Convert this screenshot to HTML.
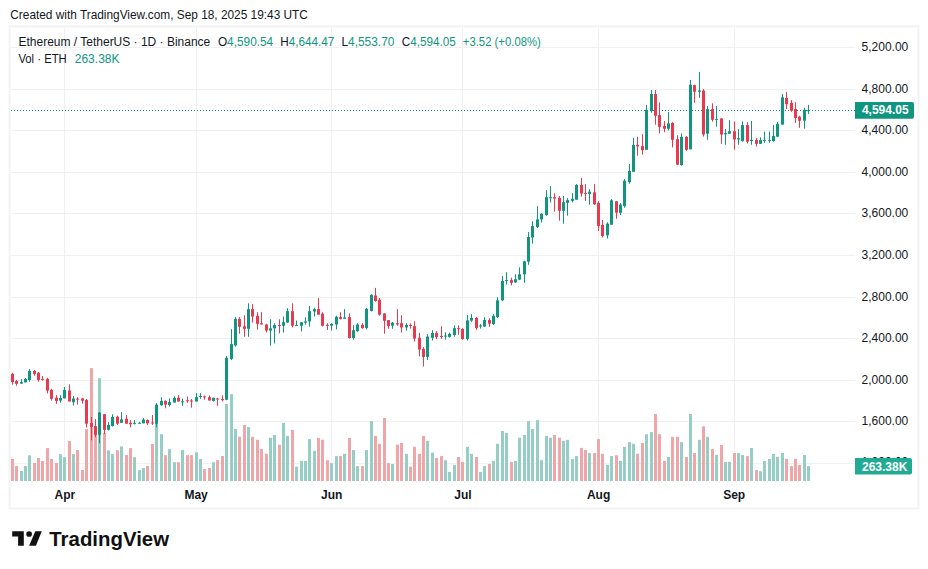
<!DOCTYPE html>
<html><head><meta charset="utf-8"><title>ETHUSDT Chart</title>
<style>html,body{margin:0;padding:0;background:#fff;width:928px;height:569px;overflow:hidden}svg{display:block}</style>
</head><body>
<svg width="928" height="569" viewBox="0 0 928 569"><rect x="9.5" y="26.5" width="909" height="482" fill="none" stroke="#f3f3f3" stroke-width="2"/>
<line x1="11" y1="47.50" x2="855" y2="47.50" stroke="#f0f0f0" stroke-width="1"/>
<line x1="11" y1="89.50" x2="855" y2="89.50" stroke="#f0f0f0" stroke-width="1"/>
<line x1="11" y1="130.50" x2="855" y2="130.50" stroke="#f0f0f0" stroke-width="1"/>
<line x1="11" y1="172.50" x2="855" y2="172.50" stroke="#f0f0f0" stroke-width="1"/>
<line x1="11" y1="213.50" x2="855" y2="213.50" stroke="#f0f0f0" stroke-width="1"/>
<line x1="11" y1="255.50" x2="855" y2="255.50" stroke="#f0f0f0" stroke-width="1"/>
<line x1="11" y1="297.50" x2="855" y2="297.50" stroke="#f0f0f0" stroke-width="1"/>
<line x1="11" y1="338.50" x2="855" y2="338.50" stroke="#f0f0f0" stroke-width="1"/>
<line x1="11" y1="380.50" x2="855" y2="380.50" stroke="#f0f0f0" stroke-width="1"/>
<line x1="11" y1="421.50" x2="855" y2="421.50" stroke="#f0f0f0" stroke-width="1"/>
<line x1="11" y1="463.50" x2="855" y2="463.50" stroke="#f0f0f0" stroke-width="1"/>
<line x1="64.50" y1="28" x2="64.50" y2="481" stroke="#f0f0f0" stroke-width="1"/>
<line x1="196.50" y1="28" x2="196.50" y2="481" stroke="#f0f0f0" stroke-width="1"/>
<line x1="331.50" y1="28" x2="331.50" y2="481" stroke="#f0f0f0" stroke-width="1"/>
<line x1="462.50" y1="28" x2="462.50" y2="481" stroke="#f0f0f0" stroke-width="1"/>
<line x1="598.50" y1="28" x2="598.50" y2="481" stroke="#f0f0f0" stroke-width="1"/>
<line x1="734.50" y1="28" x2="734.50" y2="481" stroke="#f0f0f0" stroke-width="1"/>
<line x1="11" y1="110.5" x2="855" y2="110.5" stroke="#109680" stroke-width="1" stroke-dasharray="1 2"/>
<rect x="11.00" y="459.00" width="3" height="22.00" fill="#eea6a8"/><rect x="15.00" y="466.00" width="3" height="15.00" fill="#eea6a8"/><rect x="20.00" y="471.00" width="3" height="10.00" fill="#96cec6"/><rect x="24.00" y="466.00" width="3" height="15.00" fill="#96cec6"/><rect x="28.00" y="455.30" width="3" height="25.70" fill="#96cec6"/><rect x="33.00" y="463.00" width="3" height="18.00" fill="#eea6a8"/><rect x="37.00" y="458.00" width="3" height="23.00" fill="#eea6a8"/><rect x="41.00" y="461.00" width="3" height="20.00" fill="#eea6a8"/><rect x="46.00" y="448.10" width="3" height="32.90" fill="#eea6a8"/><rect x="50.00" y="459.00" width="3" height="22.00" fill="#eea6a8"/><rect x="55.00" y="463.00" width="3" height="18.00" fill="#eea6a8"/><rect x="59.00" y="454.10" width="3" height="26.90" fill="#96cec6"/><rect x="63.00" y="457.10" width="3" height="23.90" fill="#96cec6"/><rect x="68.00" y="441.10" width="3" height="39.90" fill="#eea6a8"/><rect x="72.00" y="454.10" width="3" height="26.90" fill="#96cec6"/><rect x="76.00" y="450.00" width="3" height="31.00" fill="#eea6a8"/><rect x="81.00" y="470.00" width="3" height="11.00" fill="#eea6a8"/><rect x="85.00" y="429.10" width="3" height="51.90" fill="#eea6a8"/><rect x="90.00" y="368.10" width="3" height="112.90" fill="#eea6a8"/><rect x="94.00" y="432.00" width="3" height="49.00" fill="#eea6a8"/><rect x="98.00" y="378.20" width="3" height="102.80" fill="#96cec6"/><rect x="103.00" y="433.00" width="3" height="48.00" fill="#eea6a8"/><rect x="107.00" y="450.30" width="3" height="30.70" fill="#96cec6"/><rect x="111.00" y="454.00" width="3" height="27.00" fill="#96cec6"/><rect x="116.00" y="450.30" width="3" height="30.70" fill="#eea6a8"/><rect x="120.00" y="446.40" width="3" height="34.60" fill="#96cec6"/><rect x="125.00" y="455.00" width="3" height="26.00" fill="#eea6a8"/><rect x="129.00" y="448.10" width="3" height="32.90" fill="#eea6a8"/><rect x="133.00" y="457.20" width="3" height="23.80" fill="#96cec6"/><rect x="138.00" y="470.20" width="3" height="10.80" fill="#96cec6"/><rect x="142.00" y="468.00" width="3" height="13.00" fill="#96cec6"/><rect x="146.00" y="466.00" width="3" height="15.00" fill="#eea6a8"/><rect x="151.00" y="444.00" width="3" height="37.00" fill="#eea6a8"/><rect x="155.00" y="420.00" width="3" height="61.00" fill="#96cec6"/><rect x="160.00" y="434.20" width="3" height="46.80" fill="#96cec6"/><rect x="164.00" y="455.10" width="3" height="25.90" fill="#eea6a8"/><rect x="168.00" y="449.10" width="3" height="31.90" fill="#96cec6"/><rect x="173.00" y="462.20" width="3" height="18.80" fill="#96cec6"/><rect x="177.00" y="462.20" width="3" height="18.80" fill="#eea6a8"/><rect x="181.00" y="450.00" width="3" height="31.00" fill="#96cec6"/><rect x="186.00" y="455.10" width="3" height="25.90" fill="#eea6a8"/><rect x="190.00" y="455.10" width="3" height="25.90" fill="#eea6a8"/><rect x="195.00" y="452.20" width="3" height="28.80" fill="#96cec6"/><rect x="199.00" y="459.00" width="3" height="22.00" fill="#96cec6"/><rect x="203.00" y="469.00" width="3" height="12.00" fill="#eea6a8"/><rect x="208.00" y="468.00" width="3" height="13.00" fill="#eea6a8"/><rect x="212.00" y="462.20" width="3" height="18.80" fill="#96cec6"/><rect x="216.00" y="460.10" width="3" height="20.90" fill="#eea6a8"/><rect x="221.00" y="456.00" width="3" height="25.00" fill="#eea6a8"/><rect x="225.00" y="404.00" width="3" height="77.00" fill="#96cec6"/><rect x="230.00" y="394.10" width="3" height="86.90" fill="#96cec6"/><rect x="234.00" y="428.90" width="3" height="52.10" fill="#96cec6"/><rect x="238.00" y="436.80" width="3" height="44.20" fill="#eea6a8"/><rect x="243.00" y="425.00" width="3" height="56.00" fill="#eea6a8"/><rect x="247.00" y="427.10" width="3" height="53.90" fill="#96cec6"/><rect x="251.00" y="436.80" width="3" height="44.20" fill="#eea6a8"/><rect x="256.00" y="439.80" width="3" height="41.20" fill="#eea6a8"/><rect x="260.00" y="449.10" width="3" height="31.90" fill="#eea6a8"/><rect x="265.00" y="453.80" width="3" height="27.20" fill="#eea6a8"/><rect x="269.00" y="437.70" width="3" height="43.30" fill="#96cec6"/><rect x="273.00" y="435.00" width="3" height="46.00" fill="#96cec6"/><rect x="278.00" y="444.70" width="3" height="36.30" fill="#eea6a8"/><rect x="282.00" y="422.80" width="3" height="58.20" fill="#96cec6"/><rect x="286.00" y="435.90" width="3" height="45.10" fill="#96cec6"/><rect x="291.00" y="429.80" width="3" height="51.20" fill="#eea6a8"/><rect x="295.00" y="466.70" width="3" height="14.30" fill="#96cec6"/><rect x="300.00" y="460.90" width="3" height="20.10" fill="#96cec6"/><rect x="304.00" y="460.90" width="3" height="20.10" fill="#96cec6"/><rect x="308.00" y="439.10" width="3" height="41.90" fill="#96cec6"/><rect x="313.00" y="450.80" width="3" height="30.20" fill="#96cec6"/><rect x="317.00" y="438.00" width="3" height="43.00" fill="#eea6a8"/><rect x="321.00" y="439.80" width="3" height="41.20" fill="#eea6a8"/><rect x="326.00" y="460.20" width="3" height="20.80" fill="#eea6a8"/><rect x="330.00" y="463.10" width="3" height="17.90" fill="#96cec6"/><rect x="335.00" y="456.10" width="3" height="24.90" fill="#96cec6"/><rect x="339.00" y="456.10" width="3" height="24.90" fill="#eea6a8"/><rect x="343.00" y="453.80" width="3" height="27.20" fill="#96cec6"/><rect x="348.00" y="438.00" width="3" height="43.00" fill="#eea6a8"/><rect x="352.00" y="450.00" width="3" height="31.00" fill="#96cec6"/><rect x="356.00" y="466.10" width="3" height="14.90" fill="#96cec6"/><rect x="361.00" y="466.10" width="3" height="14.90" fill="#eea6a8"/><rect x="365.00" y="450.00" width="3" height="31.00" fill="#96cec6"/><rect x="370.00" y="421.00" width="3" height="60.00" fill="#96cec6"/><rect x="374.00" y="435.90" width="3" height="45.10" fill="#eea6a8"/><rect x="378.00" y="443.80" width="3" height="37.20" fill="#eea6a8"/><rect x="383.00" y="418.00" width="3" height="63.00" fill="#eea6a8"/><rect x="387.00" y="463.10" width="3" height="17.90" fill="#eea6a8"/><rect x="391.00" y="464.00" width="3" height="17.00" fill="#96cec6"/><rect x="396.00" y="444.70" width="3" height="36.30" fill="#eea6a8"/><rect x="400.00" y="443.00" width="3" height="38.00" fill="#eea6a8"/><rect x="405.00" y="453.80" width="3" height="27.20" fill="#96cec6"/><rect x="409.00" y="466.70" width="3" height="14.30" fill="#eea6a8"/><rect x="413.00" y="446.80" width="3" height="34.20" fill="#eea6a8"/><rect x="418.00" y="453.80" width="3" height="27.20" fill="#eea6a8"/><rect x="422.00" y="435.90" width="3" height="45.10" fill="#eea6a8"/><rect x="426.00" y="440.80" width="3" height="40.20" fill="#96cec6"/><rect x="431.00" y="452.60" width="3" height="28.40" fill="#96cec6"/><rect x="435.00" y="457.90" width="3" height="23.10" fill="#eea6a8"/><rect x="440.00" y="456.10" width="3" height="24.90" fill="#eea6a8"/><rect x="444.00" y="460.20" width="3" height="20.80" fill="#96cec6"/><rect x="448.00" y="471.90" width="3" height="9.10" fill="#96cec6"/><rect x="453.00" y="464.90" width="3" height="16.10" fill="#96cec6"/><rect x="457.00" y="457.00" width="3" height="24.00" fill="#eea6a8"/><rect x="461.00" y="461.90" width="3" height="19.10" fill="#eea6a8"/><rect x="466.00" y="446.80" width="3" height="34.20" fill="#96cec6"/><rect x="470.00" y="453.80" width="3" height="27.20" fill="#96cec6"/><rect x="475.00" y="457.00" width="3" height="24.00" fill="#eea6a8"/><rect x="479.00" y="471.90" width="3" height="9.10" fill="#96cec6"/><rect x="483.00" y="466.10" width="3" height="14.90" fill="#96cec6"/><rect x="488.00" y="464.00" width="3" height="17.00" fill="#eea6a8"/><rect x="492.00" y="460.90" width="3" height="20.10" fill="#96cec6"/><rect x="496.00" y="443.80" width="3" height="37.20" fill="#96cec6"/><rect x="501.00" y="431.00" width="3" height="50.00" fill="#96cec6"/><rect x="505.00" y="432.80" width="3" height="48.20" fill="#96cec6"/><rect x="510.00" y="461.90" width="3" height="19.10" fill="#eea6a8"/><rect x="514.00" y="460.90" width="3" height="20.10" fill="#96cec6"/><rect x="518.00" y="437.70" width="3" height="43.30" fill="#96cec6"/><rect x="523.00" y="435.00" width="3" height="46.00" fill="#96cec6"/><rect x="527.00" y="421.00" width="3" height="60.00" fill="#96cec6"/><rect x="531.00" y="428.90" width="3" height="52.10" fill="#96cec6"/><rect x="536.00" y="420.10" width="3" height="60.90" fill="#96cec6"/><rect x="540.00" y="460.20" width="3" height="20.80" fill="#96cec6"/><rect x="545.00" y="435.90" width="3" height="45.10" fill="#96cec6"/><rect x="549.00" y="437.70" width="3" height="43.30" fill="#96cec6"/><rect x="553.00" y="435.00" width="3" height="46.00" fill="#eea6a8"/><rect x="558.00" y="437.70" width="3" height="43.30" fill="#eea6a8"/><rect x="562.00" y="440.80" width="3" height="40.20" fill="#96cec6"/><rect x="566.00" y="439.80" width="3" height="41.20" fill="#96cec6"/><rect x="571.00" y="459.10" width="3" height="21.90" fill="#96cec6"/><rect x="575.00" y="456.10" width="3" height="24.90" fill="#96cec6"/><rect x="580.00" y="447.90" width="3" height="33.10" fill="#eea6a8"/><rect x="584.00" y="450.00" width="3" height="31.00" fill="#eea6a8"/><rect x="588.00" y="453.10" width="3" height="27.90" fill="#96cec6"/><rect x="593.00" y="453.10" width="3" height="27.90" fill="#eea6a8"/><rect x="597.00" y="439.10" width="3" height="41.90" fill="#eea6a8"/><rect x="601.00" y="453.80" width="3" height="27.20" fill="#eea6a8"/><rect x="606.00" y="464.90" width="3" height="16.10" fill="#96cec6"/><rect x="610.00" y="456.10" width="3" height="24.90" fill="#96cec6"/><rect x="615.00" y="455.20" width="3" height="25.80" fill="#eea6a8"/><rect x="619.00" y="460.90" width="3" height="20.10" fill="#96cec6"/><rect x="623.00" y="446.80" width="3" height="34.20" fill="#96cec6"/><rect x="628.00" y="442.10" width="3" height="38.90" fill="#96cec6"/><rect x="632.00" y="443.80" width="3" height="37.20" fill="#96cec6"/><rect x="636.00" y="453.80" width="3" height="27.20" fill="#eea6a8"/><rect x="641.00" y="443.00" width="3" height="38.00" fill="#eea6a8"/><rect x="645.00" y="434.20" width="3" height="46.80" fill="#96cec6"/><rect x="650.00" y="432.10" width="3" height="48.90" fill="#96cec6"/><rect x="654.00" y="414.00" width="3" height="67.00" fill="#eea6a8"/><rect x="658.00" y="434.20" width="3" height="46.80" fill="#eea6a8"/><rect x="663.00" y="460.90" width="3" height="20.10" fill="#eea6a8"/><rect x="667.00" y="457.00" width="3" height="24.00" fill="#96cec6"/><rect x="671.00" y="436.80" width="3" height="44.20" fill="#eea6a8"/><rect x="676.00" y="436.80" width="3" height="44.20" fill="#eea6a8"/><rect x="680.00" y="442.10" width="3" height="38.90" fill="#96cec6"/><rect x="685.00" y="457.00" width="3" height="24.00" fill="#eea6a8"/><rect x="689.00" y="414.00" width="3" height="67.00" fill="#96cec6"/><rect x="693.00" y="453.10" width="3" height="27.90" fill="#eea6a8"/><rect x="698.00" y="439.80" width="3" height="41.20" fill="#96cec6"/><rect x="702.00" y="426.30" width="3" height="54.70" fill="#eea6a8"/><rect x="706.00" y="436.80" width="3" height="44.20" fill="#96cec6"/><rect x="711.00" y="449.10" width="3" height="31.90" fill="#eea6a8"/><rect x="715.00" y="454.90" width="3" height="26.10" fill="#96cec6"/><rect x="720.00" y="445.00" width="3" height="36.00" fill="#eea6a8"/><rect x="724.00" y="461.90" width="3" height="19.10" fill="#96cec6"/><rect x="728.00" y="461.90" width="3" height="19.10" fill="#96cec6"/><rect x="733.00" y="453.10" width="3" height="27.90" fill="#eea6a8"/><rect x="737.00" y="453.10" width="3" height="27.90" fill="#96cec6"/><rect x="741.00" y="454.90" width="3" height="26.10" fill="#96cec6"/><rect x="746.00" y="456.10" width="3" height="24.90" fill="#eea6a8"/><rect x="750.00" y="448.00" width="3" height="33.00" fill="#96cec6"/><rect x="755.00" y="470.10" width="3" height="10.90" fill="#eea6a8"/><rect x="759.00" y="471.20" width="3" height="9.80" fill="#96cec6"/><rect x="763.00" y="461.00" width="3" height="20.00" fill="#96cec6"/><rect x="768.00" y="458.90" width="3" height="22.10" fill="#96cec6"/><rect x="772.00" y="454.00" width="3" height="27.00" fill="#96cec6"/><rect x="776.00" y="456.80" width="3" height="24.20" fill="#96cec6"/><rect x="781.00" y="452.90" width="3" height="28.10" fill="#96cec6"/><rect x="785.00" y="458.90" width="3" height="22.10" fill="#eea6a8"/><rect x="790.00" y="466.10" width="3" height="14.90" fill="#eea6a8"/><rect x="794.00" y="458.90" width="3" height="22.10" fill="#eea6a8"/><rect x="798.00" y="465.00" width="3" height="16.00" fill="#eea6a8"/><rect x="803.00" y="455.00" width="3" height="26.00" fill="#96cec6"/><rect x="807.00" y="466.10" width="3" height="14.90" fill="#96cec6"/>
<rect x="12.00" y="372.80" width="1" height="11.80" fill="#e8394f"/><rect x="11.00" y="373.90" width="3" height="8.20" fill="#e8394f"/><rect x="16.00" y="379.90" width="1" height="5.90" fill="#e8394f"/><rect x="15.00" y="381.00" width="3" height="2.80" fill="#e8394f"/><rect x="21.00" y="379.10" width="1" height="4.50" fill="#109680"/><rect x="20.00" y="382.10" width="3" height="1.50" fill="#109680"/><rect x="25.00" y="378.00" width="1" height="4.40" fill="#109680"/><rect x="24.00" y="378.90" width="3" height="3.50" fill="#109680"/><rect x="29.00" y="369.10" width="1" height="12.60" fill="#109680"/><rect x="28.00" y="371.00" width="3" height="9.00" fill="#109680"/><rect x="34.00" y="370.00" width="1" height="5.70" fill="#e8394f"/><rect x="33.00" y="371.00" width="3" height="2.90" fill="#e8394f"/><rect x="38.00" y="372.00" width="1" height="9.70" fill="#e8394f"/><rect x="37.00" y="372.80" width="3" height="7.10" fill="#e8394f"/><rect x="42.00" y="376.00" width="1" height="4.60" fill="#e8394f"/><rect x="41.00" y="378.90" width="3" height="1.00" fill="#e8394f"/><rect x="47.00" y="377.80" width="1" height="15.60" fill="#e8394f"/><rect x="46.00" y="378.90" width="3" height="11.70" fill="#e8394f"/><rect x="51.00" y="388.80" width="1" height="11.80" fill="#e8394f"/><rect x="50.00" y="389.90" width="3" height="8.90" fill="#e8394f"/><rect x="56.00" y="395.20" width="1" height="8.60" fill="#e8394f"/><rect x="55.00" y="397.70" width="3" height="3.20" fill="#e8394f"/><rect x="60.00" y="395.20" width="1" height="7.50" fill="#109680"/><rect x="59.00" y="398.00" width="3" height="2.60" fill="#109680"/><rect x="64.00" y="387.00" width="1" height="11.40" fill="#109680"/><rect x="63.00" y="389.90" width="3" height="8.50" fill="#109680"/><rect x="69.00" y="384.30" width="1" height="17.20" fill="#e8394f"/><rect x="68.00" y="390.50" width="3" height="11.00" fill="#e8394f"/><rect x="73.00" y="396.00" width="1" height="9.60" fill="#109680"/><rect x="72.00" y="398.50" width="3" height="3.70" fill="#109680"/><rect x="77.00" y="397.20" width="1" height="7.40" fill="#e8394f"/><rect x="76.00" y="398.70" width="3" height="1.00" fill="#e8394f"/><rect x="82.00" y="397.80" width="1" height="5.80" fill="#e8394f"/><rect x="81.00" y="398.50" width="3" height="2.20" fill="#e8394f"/><rect x="86.00" y="399.00" width="1" height="28.40" fill="#e8394f"/><rect x="85.00" y="399.90" width="3" height="23.80" fill="#e8394f"/><rect x="91.00" y="417.00" width="1" height="23.30" fill="#e8394f"/><rect x="90.00" y="423.00" width="3" height="3.80" fill="#e8394f"/><rect x="95.00" y="419.10" width="1" height="18.10" fill="#e8394f"/><rect x="94.00" y="426.10" width="3" height="8.70" fill="#e8394f"/><rect x="99.00" y="412.20" width="1" height="31.20" fill="#109680"/><rect x="98.00" y="412.60" width="3" height="22.20" fill="#109680"/><rect x="104.00" y="414.20" width="1" height="19.90" fill="#e8394f"/><rect x="103.00" y="414.20" width="3" height="15.60" fill="#e8394f"/><rect x="108.00" y="422.10" width="1" height="8.40" fill="#109680"/><rect x="107.00" y="424.90" width="3" height="4.90" fill="#109680"/><rect x="112.00" y="414.20" width="1" height="12.30" fill="#109680"/><rect x="111.00" y="416.90" width="3" height="9.20" fill="#109680"/><rect x="117.00" y="415.70" width="1" height="9.20" fill="#e8394f"/><rect x="116.00" y="416.70" width="3" height="7.00" fill="#e8394f"/><rect x="121.00" y="412.20" width="1" height="10.60" fill="#109680"/><rect x="120.00" y="419.40" width="3" height="3.40" fill="#109680"/><rect x="126.00" y="415.00" width="1" height="8.70" fill="#e8394f"/><rect x="125.00" y="418.80" width="3" height="4.90" fill="#e8394f"/><rect x="130.00" y="420.00" width="1" height="7.40" fill="#e8394f"/><rect x="129.00" y="422.80" width="3" height="1.50" fill="#e8394f"/><rect x="134.00" y="420.00" width="1" height="4.50" fill="#109680"/><rect x="133.00" y="422.80" width="3" height="1.00" fill="#109680"/><rect x="139.00" y="421.80" width="1" height="1.50" fill="#109680"/><rect x="138.00" y="422.80" width="3" height="1.00" fill="#109680"/><rect x="143.00" y="418.10" width="1" height="5.20" fill="#109680"/><rect x="142.00" y="419.60" width="3" height="3.70" fill="#109680"/><rect x="147.00" y="419.40" width="1" height="5.50" fill="#e8394f"/><rect x="146.00" y="420.00" width="3" height="3.30" fill="#e8394f"/><rect x="152.00" y="415.00" width="1" height="9.90" fill="#e8394f"/><rect x="151.00" y="422.50" width="3" height="1.00" fill="#e8394f"/><rect x="156.00" y="403.10" width="1" height="24.30" fill="#109680"/><rect x="155.00" y="404.60" width="3" height="19.10" fill="#109680"/><rect x="161.00" y="397.20" width="1" height="8.60" fill="#109680"/><rect x="160.00" y="400.90" width="3" height="4.30" fill="#109680"/><rect x="165.00" y="400.30" width="1" height="8.00" fill="#e8394f"/><rect x="164.00" y="400.90" width="3" height="3.70" fill="#e8394f"/><rect x="169.00" y="398.50" width="1" height="8.00" fill="#109680"/><rect x="168.00" y="402.10" width="3" height="2.90" fill="#109680"/><rect x="174.00" y="396.40" width="1" height="6.40" fill="#109680"/><rect x="173.00" y="397.80" width="3" height="4.70" fill="#109680"/><rect x="178.00" y="395.10" width="1" height="6.40" fill="#e8394f"/><rect x="177.00" y="397.80" width="3" height="3.70" fill="#e8394f"/><rect x="182.00" y="398.50" width="1" height="7.30" fill="#109680"/><rect x="181.00" y="401.30" width="3" height="1.00" fill="#109680"/><rect x="187.00" y="396.60" width="1" height="6.20" fill="#e8394f"/><rect x="186.00" y="400.30" width="3" height="1.00" fill="#e8394f"/><rect x="191.00" y="399.00" width="1" height="8.70" fill="#e8394f"/><rect x="190.00" y="400.50" width="3" height="1.00" fill="#e8394f"/><rect x="196.00" y="393.20" width="1" height="8.30" fill="#109680"/><rect x="195.00" y="397.20" width="3" height="4.30" fill="#109680"/><rect x="200.00" y="393.20" width="1" height="5.60" fill="#109680"/><rect x="199.00" y="396.00" width="3" height="1.00" fill="#109680"/><rect x="204.00" y="395.40" width="1" height="4.30" fill="#e8394f"/><rect x="203.00" y="396.40" width="3" height="1.00" fill="#e8394f"/><rect x="209.00" y="395.40" width="1" height="5.10" fill="#e8394f"/><rect x="208.00" y="397.20" width="3" height="3.30" fill="#e8394f"/><rect x="213.00" y="397.60" width="1" height="3.90" fill="#109680"/><rect x="212.00" y="397.80" width="3" height="3.10" fill="#109680"/><rect x="217.00" y="397.80" width="1" height="8.00" fill="#e8394f"/><rect x="216.00" y="398.50" width="3" height="1.00" fill="#e8394f"/><rect x="222.00" y="395.40" width="1" height="6.10" fill="#e8394f"/><rect x="221.00" y="399.10" width="3" height="1.00" fill="#e8394f"/><rect x="226.00" y="356.00" width="1" height="44.30" fill="#109680"/><rect x="225.00" y="357.80" width="3" height="41.90" fill="#109680"/><rect x="231.00" y="329.10" width="1" height="30.90" fill="#109680"/><rect x="230.00" y="344.10" width="3" height="14.80" fill="#109680"/><rect x="235.00" y="317.10" width="1" height="29.50" fill="#109680"/><rect x="234.00" y="318.90" width="3" height="26.50" fill="#109680"/><rect x="239.00" y="317.10" width="1" height="16.60" fill="#e8394f"/><rect x="238.00" y="318.90" width="3" height="7.80" fill="#e8394f"/><rect x="244.00" y="315.20" width="1" height="21.60" fill="#e8394f"/><rect x="243.00" y="326.30" width="3" height="2.50" fill="#e8394f"/><rect x="248.00" y="303.30" width="1" height="33.50" fill="#109680"/><rect x="247.00" y="309.10" width="3" height="19.70" fill="#109680"/><rect x="252.00" y="304.20" width="1" height="18.40" fill="#e8394f"/><rect x="251.00" y="309.10" width="3" height="7.40" fill="#e8394f"/><rect x="257.00" y="312.20" width="1" height="17.40" fill="#e8394f"/><rect x="256.00" y="315.80" width="3" height="8.00" fill="#e8394f"/><rect x="261.00" y="312.20" width="1" height="12.30" fill="#e8394f"/><rect x="260.00" y="323.20" width="3" height="1.30" fill="#e8394f"/><rect x="266.00" y="323.80" width="1" height="8.70" fill="#e8394f"/><rect x="265.00" y="324.50" width="3" height="6.10" fill="#e8394f"/><rect x="270.00" y="319.30" width="1" height="26.30" fill="#109680"/><rect x="269.00" y="328.40" width="3" height="2.20" fill="#109680"/><rect x="274.00" y="323.20" width="1" height="20.30" fill="#109680"/><rect x="273.00" y="325.10" width="3" height="3.30" fill="#109680"/><rect x="279.00" y="319.30" width="1" height="14.00" fill="#e8394f"/><rect x="278.00" y="325.10" width="3" height="1.00" fill="#e8394f"/><rect x="283.00" y="316.50" width="1" height="16.00" fill="#109680"/><rect x="282.00" y="322.20" width="3" height="3.50" fill="#109680"/><rect x="287.00" y="308.20" width="1" height="14.40" fill="#109680"/><rect x="286.00" y="311.20" width="3" height="11.40" fill="#109680"/><rect x="292.00" y="303.30" width="1" height="24.20" fill="#e8394f"/><rect x="291.00" y="311.20" width="3" height="14.50" fill="#e8394f"/><rect x="296.00" y="320.50" width="1" height="5.20" fill="#109680"/><rect x="295.00" y="325.10" width="3" height="1.00" fill="#109680"/><rect x="301.00" y="322.20" width="1" height="9.40" fill="#109680"/><rect x="300.00" y="322.20" width="3" height="3.50" fill="#109680"/><rect x="305.00" y="317.30" width="1" height="7.40" fill="#109680"/><rect x="304.00" y="321.40" width="3" height="1.20" fill="#109680"/><rect x="309.00" y="306.00" width="1" height="20.70" fill="#109680"/><rect x="308.00" y="311.20" width="3" height="10.20" fill="#109680"/><rect x="314.00" y="307.80" width="1" height="8.70" fill="#109680"/><rect x="313.00" y="309.10" width="3" height="2.40" fill="#109680"/><rect x="318.00" y="298.00" width="1" height="16.60" fill="#e8394f"/><rect x="317.00" y="309.10" width="3" height="5.50" fill="#e8394f"/><rect x="322.00" y="312.20" width="1" height="14.30" fill="#e8394f"/><rect x="321.00" y="313.70" width="3" height="12.00" fill="#e8394f"/><rect x="327.00" y="323.20" width="1" height="6.80" fill="#e8394f"/><rect x="326.00" y="324.80" width="3" height="1.00" fill="#e8394f"/><rect x="331.00" y="323.20" width="1" height="7.40" fill="#109680"/><rect x="330.00" y="323.80" width="3" height="1.90" fill="#109680"/><rect x="336.00" y="315.80" width="1" height="13.60" fill="#109680"/><rect x="335.00" y="316.70" width="3" height="7.80" fill="#109680"/><rect x="340.00" y="312.20" width="1" height="7.30" fill="#e8394f"/><rect x="339.00" y="317.10" width="3" height="1.80" fill="#e8394f"/><rect x="344.00" y="309.10" width="1" height="9.60" fill="#109680"/><rect x="343.00" y="317.40" width="3" height="1.30" fill="#109680"/><rect x="349.00" y="313.40" width="1" height="25.20" fill="#e8394f"/><rect x="348.00" y="317.10" width="3" height="20.90" fill="#e8394f"/><rect x="353.00" y="325.10" width="1" height="14.50" fill="#109680"/><rect x="352.00" y="330.20" width="3" height="7.80" fill="#109680"/><rect x="357.00" y="323.20" width="1" height="8.60" fill="#109680"/><rect x="356.00" y="324.50" width="3" height="6.70" fill="#109680"/><rect x="362.00" y="323.20" width="1" height="5.60" fill="#e8394f"/><rect x="361.00" y="324.80" width="3" height="3.30" fill="#e8394f"/><rect x="366.00" y="307.80" width="1" height="21.60" fill="#109680"/><rect x="365.00" y="308.80" width="3" height="19.30" fill="#109680"/><rect x="371.00" y="294.10" width="1" height="17.40" fill="#109680"/><rect x="370.00" y="294.90" width="3" height="16.00" fill="#109680"/><rect x="375.00" y="287.90" width="1" height="13.80" fill="#e8394f"/><rect x="374.00" y="295.50" width="3" height="5.60" fill="#e8394f"/><rect x="379.00" y="298.00" width="1" height="17.80" fill="#e8394f"/><rect x="378.00" y="299.80" width="3" height="14.80" fill="#e8394f"/><rect x="384.00" y="313.40" width="1" height="20.30" fill="#e8394f"/><rect x="383.00" y="313.40" width="3" height="7.40" fill="#e8394f"/><rect x="388.00" y="320.10" width="1" height="8.70" fill="#e8394f"/><rect x="387.00" y="320.10" width="3" height="6.00" fill="#e8394f"/><rect x="392.00" y="322.00" width="1" height="6.80" fill="#109680"/><rect x="391.00" y="322.60" width="3" height="3.10" fill="#109680"/><rect x="397.00" y="309.10" width="1" height="16.60" fill="#e8394f"/><rect x="396.00" y="323.20" width="3" height="1.30" fill="#e8394f"/><rect x="401.00" y="315.20" width="1" height="17.30" fill="#e8394f"/><rect x="400.00" y="323.20" width="3" height="4.30" fill="#e8394f"/><rect x="406.00" y="323.10" width="1" height="7.60" fill="#109680"/><rect x="405.00" y="324.90" width="3" height="2.50" fill="#109680"/><rect x="410.00" y="323.30" width="1" height="5.30" fill="#e8394f"/><rect x="409.00" y="324.90" width="3" height="1.00" fill="#e8394f"/><rect x="414.00" y="321.20" width="1" height="20.30" fill="#e8394f"/><rect x="413.00" y="326.20" width="3" height="12.30" fill="#e8394f"/><rect x="419.00" y="332.90" width="1" height="23.40" fill="#e8394f"/><rect x="418.00" y="337.80" width="3" height="11.70" fill="#e8394f"/><rect x="423.00" y="347.10" width="1" height="19.40" fill="#e8394f"/><rect x="422.00" y="348.90" width="3" height="8.00" fill="#e8394f"/><rect x="427.00" y="334.10" width="1" height="25.90" fill="#109680"/><rect x="426.00" y="336.60" width="3" height="20.30" fill="#109680"/><rect x="432.00" y="330.20" width="1" height="10.30" fill="#109680"/><rect x="431.00" y="332.90" width="3" height="4.90" fill="#109680"/><rect x="436.00" y="331.10" width="1" height="8.00" fill="#e8394f"/><rect x="435.00" y="332.90" width="3" height="4.30" fill="#e8394f"/><rect x="441.00" y="326.20" width="1" height="12.60" fill="#e8394f"/><rect x="440.00" y="336.00" width="3" height="1.00" fill="#e8394f"/><rect x="445.00" y="332.30" width="1" height="7.40" fill="#109680"/><rect x="444.00" y="335.60" width="3" height="1.00" fill="#109680"/><rect x="449.00" y="332.70" width="1" height="4.90" fill="#109680"/><rect x="448.00" y="333.90" width="3" height="3.00" fill="#109680"/><rect x="454.00" y="325.30" width="1" height="11.30" fill="#109680"/><rect x="453.00" y="328.20" width="3" height="6.90" fill="#109680"/><rect x="458.00" y="325.30" width="1" height="9.50" fill="#e8394f"/><rect x="457.00" y="328.20" width="3" height="1.00" fill="#e8394f"/><rect x="462.00" y="328.20" width="1" height="11.50" fill="#e8394f"/><rect x="461.00" y="329.00" width="3" height="10.10" fill="#e8394f"/><rect x="467.00" y="315.10" width="1" height="25.40" fill="#109680"/><rect x="466.00" y="320.40" width="3" height="18.70" fill="#109680"/><rect x="471.00" y="314.20" width="1" height="7.60" fill="#109680"/><rect x="470.00" y="317.90" width="3" height="2.70" fill="#109680"/><rect x="476.00" y="316.90" width="1" height="12.90" fill="#e8394f"/><rect x="475.00" y="317.90" width="3" height="10.30" fill="#e8394f"/><rect x="480.00" y="324.10" width="1" height="4.50" fill="#109680"/><rect x="479.00" y="325.50" width="3" height="1.00" fill="#109680"/><rect x="484.00" y="317.20" width="1" height="9.60" fill="#109680"/><rect x="483.00" y="320.00" width="3" height="6.50" fill="#109680"/><rect x="489.00" y="318.20" width="1" height="8.60" fill="#e8394f"/><rect x="488.00" y="320.00" width="3" height="3.70" fill="#e8394f"/><rect x="493.00" y="314.10" width="1" height="10.90" fill="#109680"/><rect x="492.00" y="315.80" width="3" height="8.30" fill="#109680"/><rect x="497.00" y="297.20" width="1" height="20.70" fill="#109680"/><rect x="496.00" y="300.30" width="3" height="16.80" fill="#109680"/><rect x="502.00" y="276.10" width="1" height="25.10" fill="#109680"/><rect x="501.00" y="281.00" width="3" height="19.30" fill="#109680"/><rect x="506.00" y="272.20" width="1" height="12.30" fill="#109680"/><rect x="505.00" y="280.10" width="3" height="1.00" fill="#109680"/><rect x="511.00" y="277.80" width="1" height="7.60" fill="#e8394f"/><rect x="510.00" y="280.10" width="3" height="2.70" fill="#e8394f"/><rect x="515.00" y="274.30" width="1" height="8.50" fill="#109680"/><rect x="514.00" y="279.20" width="3" height="3.20" fill="#109680"/><rect x="519.00" y="267.30" width="1" height="12.80" fill="#109680"/><rect x="518.00" y="274.30" width="3" height="5.30" fill="#109680"/><rect x="524.00" y="260.80" width="1" height="22.00" fill="#109680"/><rect x="523.00" y="261.30" width="3" height="13.00" fill="#109680"/><rect x="528.00" y="232.10" width="1" height="32.70" fill="#109680"/><rect x="527.00" y="237.00" width="3" height="24.70" fill="#109680"/><rect x="532.00" y="221.20" width="1" height="22.50" fill="#109680"/><rect x="531.00" y="226.10" width="3" height="11.30" fill="#109680"/><rect x="537.00" y="206.20" width="1" height="21.80" fill="#109680"/><rect x="536.00" y="219.40" width="3" height="7.70" fill="#109680"/><rect x="541.00" y="213.20" width="1" height="9.30" fill="#109680"/><rect x="540.00" y="213.80" width="3" height="5.60" fill="#109680"/><rect x="546.00" y="190.20" width="1" height="25.50" fill="#109680"/><rect x="545.00" y="197.20" width="3" height="17.90" fill="#109680"/><rect x="550.00" y="186.20" width="1" height="16.30" fill="#109680"/><rect x="549.00" y="197.20" width="3" height="1.00" fill="#109680"/><rect x="554.00" y="193.20" width="1" height="18.40" fill="#e8394f"/><rect x="553.00" y="197.20" width="3" height="1.30" fill="#e8394f"/><rect x="559.00" y="196.00" width="1" height="24.60" fill="#e8394f"/><rect x="558.00" y="197.80" width="3" height="13.00" fill="#e8394f"/><rect x="563.00" y="196.00" width="1" height="27.70" fill="#109680"/><rect x="562.00" y="202.20" width="3" height="8.60" fill="#109680"/><rect x="567.00" y="198.10" width="1" height="17.60" fill="#109680"/><rect x="566.00" y="200.10" width="3" height="2.70" fill="#109680"/><rect x="572.00" y="193.20" width="1" height="9.30" fill="#109680"/><rect x="571.00" y="198.80" width="3" height="2.10" fill="#109680"/><rect x="576.00" y="184.10" width="1" height="15.60" fill="#109680"/><rect x="575.00" y="184.90" width="3" height="14.80" fill="#109680"/><rect x="581.00" y="177.90" width="1" height="18.70" fill="#e8394f"/><rect x="580.00" y="184.90" width="3" height="8.60" fill="#e8394f"/><rect x="585.00" y="184.10" width="1" height="16.80" fill="#e8394f"/><rect x="584.00" y="192.90" width="3" height="1.00" fill="#e8394f"/><rect x="589.00" y="189.20" width="1" height="15.40" fill="#109680"/><rect x="588.00" y="191.70" width="3" height="2.20" fill="#109680"/><rect x="594.00" y="184.10" width="1" height="20.90" fill="#e8394f"/><rect x="593.00" y="192.30" width="3" height="11.90" fill="#e8394f"/><rect x="598.00" y="201.30" width="1" height="29.50" fill="#e8394f"/><rect x="597.00" y="202.80" width="3" height="23.10" fill="#e8394f"/><rect x="602.00" y="220.00" width="1" height="17.50" fill="#e8394f"/><rect x="601.00" y="224.90" width="3" height="11.10" fill="#e8394f"/><rect x="607.00" y="222.20" width="1" height="16.30" fill="#109680"/><rect x="606.00" y="223.70" width="3" height="11.70" fill="#109680"/><rect x="611.00" y="199.10" width="1" height="25.60" fill="#109680"/><rect x="610.00" y="200.30" width="3" height="24.40" fill="#109680"/><rect x="616.00" y="201.30" width="1" height="17.50" fill="#e8394f"/><rect x="615.00" y="201.30" width="3" height="11.30" fill="#e8394f"/><rect x="620.00" y="203.10" width="1" height="11.90" fill="#109680"/><rect x="619.00" y="204.60" width="3" height="8.20" fill="#109680"/><rect x="624.00" y="179.00" width="1" height="28.60" fill="#109680"/><rect x="623.00" y="180.70" width="3" height="25.40" fill="#109680"/><rect x="629.00" y="164.00" width="1" height="19.70" fill="#109680"/><rect x="628.00" y="171.00" width="3" height="11.20" fill="#109680"/><rect x="633.00" y="137.80" width="1" height="34.00" fill="#109680"/><rect x="632.00" y="144.90" width="3" height="26.90" fill="#109680"/><rect x="637.00" y="136.70" width="1" height="19.00" fill="#e8394f"/><rect x="636.00" y="144.90" width="3" height="1.50" fill="#e8394f"/><rect x="642.00" y="134.20" width="1" height="20.40" fill="#e8394f"/><rect x="641.00" y="146.10" width="3" height="4.00" fill="#e8394f"/><rect x="646.00" y="104.90" width="1" height="44.90" fill="#109680"/><rect x="645.00" y="109.90" width="3" height="39.90" fill="#109680"/><rect x="651.00" y="90.00" width="1" height="22.80" fill="#109680"/><rect x="650.00" y="94.00" width="3" height="17.10" fill="#109680"/><rect x="655.00" y="90.00" width="1" height="34.60" fill="#e8394f"/><rect x="654.00" y="94.00" width="3" height="21.80" fill="#e8394f"/><rect x="659.00" y="102.30" width="1" height="31.10" fill="#e8394f"/><rect x="658.00" y="115.10" width="3" height="11.80" fill="#e8394f"/><rect x="664.00" y="121.10" width="1" height="11.10" fill="#e8394f"/><rect x="663.00" y="126.00" width="3" height="2.70" fill="#e8394f"/><rect x="668.00" y="112.00" width="1" height="18.40" fill="#109680"/><rect x="667.00" y="123.40" width="3" height="5.30" fill="#109680"/><rect x="672.00" y="122.20" width="1" height="25.30" fill="#e8394f"/><rect x="671.00" y="122.90" width="3" height="16.90" fill="#e8394f"/><rect x="677.00" y="135.20" width="1" height="29.90" fill="#e8394f"/><rect x="676.00" y="139.20" width="3" height="25.50" fill="#e8394f"/><rect x="681.00" y="133.40" width="1" height="32.20" fill="#109680"/><rect x="680.00" y="136.90" width="3" height="28.20" fill="#109680"/><rect x="686.00" y="136.20" width="1" height="14.50" fill="#e8394f"/><rect x="685.00" y="136.90" width="3" height="12.90" fill="#e8394f"/><rect x="690.00" y="80.00" width="1" height="69.30" fill="#109680"/><rect x="689.00" y="84.70" width="3" height="64.60" fill="#109680"/><rect x="694.00" y="84.70" width="1" height="18.10" fill="#e8394f"/><rect x="693.00" y="85.20" width="3" height="6.50" fill="#e8394f"/><rect x="699.00" y="71.90" width="1" height="26.00" fill="#109680"/><rect x="698.00" y="90.50" width="3" height="1.20" fill="#109680"/><rect x="703.00" y="89.10" width="1" height="47.50" fill="#e8394f"/><rect x="702.00" y="90.50" width="3" height="44.00" fill="#e8394f"/><rect x="707.00" y="106.00" width="1" height="33.80" fill="#109680"/><rect x="706.00" y="109.10" width="3" height="24.60" fill="#109680"/><rect x="712.00" y="103.30" width="1" height="18.40" fill="#e8394f"/><rect x="711.00" y="109.10" width="3" height="10.70" fill="#e8394f"/><rect x="716.00" y="106.00" width="1" height="20.70" fill="#109680"/><rect x="715.00" y="118.90" width="3" height="1.00" fill="#109680"/><rect x="721.00" y="118.00" width="1" height="25.90" fill="#e8394f"/><rect x="720.00" y="118.50" width="3" height="16.00" fill="#e8394f"/><rect x="725.00" y="129.10" width="1" height="15.60" fill="#109680"/><rect x="724.00" y="133.10" width="3" height="1.20" fill="#109680"/><rect x="729.00" y="120.10" width="1" height="13.60" fill="#109680"/><rect x="728.00" y="131.20" width="3" height="2.50" fill="#109680"/><rect x="734.00" y="121.40" width="1" height="28.30" fill="#e8394f"/><rect x="733.00" y="131.20" width="3" height="8.30" fill="#e8394f"/><rect x="738.00" y="129.10" width="1" height="15.60" fill="#109680"/><rect x="737.00" y="138.20" width="3" height="1.30" fill="#109680"/><rect x="742.00" y="121.40" width="1" height="20.30" fill="#109680"/><rect x="741.00" y="125.10" width="3" height="16.00" fill="#109680"/><rect x="747.00" y="122.20" width="1" height="21.30" fill="#e8394f"/><rect x="746.00" y="125.10" width="3" height="16.60" fill="#e8394f"/><rect x="751.00" y="121.00" width="1" height="23.70" fill="#109680"/><rect x="750.00" y="139.80" width="3" height="1.30" fill="#109680"/><rect x="756.00" y="138.10" width="1" height="8.40" fill="#e8394f"/><rect x="755.00" y="140.10" width="3" height="3.70" fill="#e8394f"/><rect x="760.00" y="137.30" width="1" height="6.50" fill="#109680"/><rect x="759.00" y="140.10" width="3" height="3.70" fill="#109680"/><rect x="764.00" y="131.70" width="1" height="11.10" fill="#109680"/><rect x="763.00" y="140.10" width="3" height="1.00" fill="#109680"/><rect x="769.00" y="131.70" width="1" height="11.10" fill="#109680"/><rect x="768.00" y="140.10" width="3" height="1.00" fill="#109680"/><rect x="773.00" y="125.00" width="1" height="16.60" fill="#109680"/><rect x="772.00" y="136.00" width="3" height="5.00" fill="#109680"/><rect x="777.00" y="121.90" width="1" height="14.80" fill="#109680"/><rect x="776.00" y="123.80" width="3" height="12.90" fill="#109680"/><rect x="782.00" y="93.90" width="1" height="30.70" fill="#109680"/><rect x="781.00" y="97.30" width="3" height="27.30" fill="#109680"/><rect x="786.00" y="92.10" width="1" height="16.90" fill="#e8394f"/><rect x="785.00" y="97.90" width="3" height="6.20" fill="#e8394f"/><rect x="791.00" y="100.00" width="1" height="11.80" fill="#e8394f"/><rect x="790.00" y="102.80" width="3" height="8.00" fill="#e8394f"/><rect x="795.00" y="102.20" width="1" height="20.70" fill="#e8394f"/><rect x="794.00" y="109.00" width="3" height="9.00" fill="#e8394f"/><rect x="799.00" y="115.80" width="1" height="12.00" fill="#e8394f"/><rect x="798.00" y="116.70" width="3" height="4.00" fill="#e8394f"/><rect x="804.00" y="107.80" width="1" height="20.90" fill="#109680"/><rect x="803.00" y="109.80" width="3" height="10.90" fill="#109680"/><rect x="808.00" y="104.90" width="1" height="9.00" fill="#109680"/><rect x="807.00" y="110.20" width="3" height="1.00" fill="#109680"/>
<text x="908.3" y="51.00" font-family="Liberation Sans, sans-serif" font-size="12" fill="#131722" text-anchor="end">5,200.00</text>
<text x="908.3" y="92.60" font-family="Liberation Sans, sans-serif" font-size="12" fill="#131722" text-anchor="end">4,800.00</text>
<text x="908.3" y="134.20" font-family="Liberation Sans, sans-serif" font-size="12" fill="#131722" text-anchor="end">4,400.00</text>
<text x="908.3" y="175.80" font-family="Liberation Sans, sans-serif" font-size="12" fill="#131722" text-anchor="end">4,000.00</text>
<text x="908.3" y="217.40" font-family="Liberation Sans, sans-serif" font-size="12" fill="#131722" text-anchor="end">3,600.00</text>
<text x="908.3" y="259.00" font-family="Liberation Sans, sans-serif" font-size="12" fill="#131722" text-anchor="end">3,200.00</text>
<text x="908.3" y="300.60" font-family="Liberation Sans, sans-serif" font-size="12" fill="#131722" text-anchor="end">2,800.00</text>
<text x="908.3" y="342.20" font-family="Liberation Sans, sans-serif" font-size="12" fill="#131722" text-anchor="end">2,400.00</text>
<text x="908.3" y="383.80" font-family="Liberation Sans, sans-serif" font-size="12" fill="#131722" text-anchor="end">2,000.00</text>
<text x="908.3" y="425.40" font-family="Liberation Sans, sans-serif" font-size="12" fill="#131722" text-anchor="end">1,600.00</text>
<text x="908.3" y="465.50" font-family="Liberation Sans, sans-serif" font-size="12" fill="#131722" text-anchor="end">1,200.00</text>
<path d="M855 458 H910 a2 2 0 0 1 2 2 V472.5 a2 2 0 0 1 -2 2 H855 Z" fill="#22ab94"/>
<text x="862" y="470.6" font-family="Liberation Sans, sans-serif" font-size="12" font-weight="bold" fill="#fff" textLength="45.4" lengthAdjust="spacingAndGlyphs">263.38K</text>
<path d="M855 102 H912 a2 2 0 0 1 2 2 V116.7 a2 2 0 0 1 -2 2 H855 Z" fill="#109680"/>
<text x="908.6" y="114" font-family="Liberation Sans, sans-serif" font-size="12" font-weight="bold" fill="#fff" text-anchor="end">4,594.05</text>
<text x="64.87" y="499" font-family="Liberation Sans, sans-serif" font-size="12" font-weight="bold" fill="#131722" text-anchor="middle">Apr</text>
<text x="196.11" y="499" font-family="Liberation Sans, sans-serif" font-size="12" font-weight="bold" fill="#131722" text-anchor="middle">May</text>
<text x="331.73" y="499" font-family="Liberation Sans, sans-serif" font-size="12" font-weight="bold" fill="#131722" text-anchor="middle">Jun</text>
<text x="462.97" y="499" font-family="Liberation Sans, sans-serif" font-size="12" font-weight="bold" fill="#131722" text-anchor="middle">Jul</text>
<text x="598.59" y="499" font-family="Liberation Sans, sans-serif" font-size="12" font-weight="bold" fill="#131722" text-anchor="middle">Aug</text>
<text x="734.21" y="499" font-family="Liberation Sans, sans-serif" font-size="12" font-weight="bold" fill="#131722" text-anchor="middle">Sep</text>
<text x="10.3" y="19.2" font-family="Liberation Sans, sans-serif" font-size="13" fill="#131722" textLength="297.6" lengthAdjust="spacingAndGlyphs">Created with TradingView.com, Sep 18, 2025 19:43 UTC</text>
<text x="18.5" y="45.9" font-family="Liberation Sans, sans-serif" font-size="12" fill="#131722" textLength="191.8" lengthAdjust="spacingAndGlyphs">Ethereum / TetherUS · 1D · Binance</text>
<text x="217.9" y="45.9" font-family="Liberation Sans, sans-serif" font-size="12" fill="#131722" textLength="55.3" lengthAdjust="spacingAndGlyphs">O<tspan fill="#109680">4,590.54</tspan></text>
<text x="280.3" y="45.9" font-family="Liberation Sans, sans-serif" font-size="12" fill="#131722" textLength="54.1" lengthAdjust="spacingAndGlyphs">H<tspan fill="#109680">4,644.47</tspan></text>
<text x="341.4" y="45.9" font-family="Liberation Sans, sans-serif" font-size="12" fill="#131722" textLength="53.0" lengthAdjust="spacingAndGlyphs">L<tspan fill="#109680">4,553.70</tspan></text>
<text x="401.7" y="45.9" font-family="Liberation Sans, sans-serif" font-size="12" fill="#131722" textLength="54.1" lengthAdjust="spacingAndGlyphs">C<tspan fill="#109680">4,594.05</tspan></text>
<text x="462.8" y="45.9" font-family="Liberation Sans, sans-serif" font-size="12" fill="#109680" textLength="78.0" lengthAdjust="spacingAndGlyphs">+3.52 (+0.08%)</text>
<text x="18.4" y="62.7" font-family="Liberation Sans, sans-serif" font-size="12" fill="#131722" textLength="48.4" lengthAdjust="spacingAndGlyphs">Vol · ETH</text>
<text x="74.7" y="62.7" font-family="Liberation Sans, sans-serif" font-size="12" fill="#109680" textLength="44.9" lengthAdjust="spacingAndGlyphs">263.38K</text>
<g fill="#111"><path d="M12.2 531.2H23.8V545.7H18.1V536.6H12.2Z"/><path d="M35.3 531.2H41.8L35.9 545.7H29.1Z"/><circle cx="29.1" cy="534" r="2.85"/></g>
<text x="49.3" y="545.5" font-family="Liberation Sans, sans-serif" font-size="20.5" font-weight="bold" fill="#111" textLength="119.7" lengthAdjust="spacingAndGlyphs">TradingView</text></svg>
</body></html>
